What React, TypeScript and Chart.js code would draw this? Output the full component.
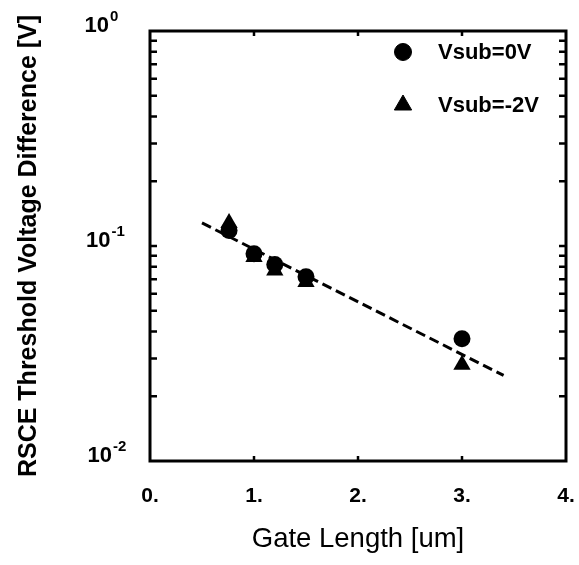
import React, { useEffect, useRef } from 'react';
import { Chart, registerables } from 'chart.js';
import { drawPoint } from 'chart.js/helpers';

Chart.register(...registerables);

// ---- data ----
const gateLength = [0.76, 1.0, 1.2, 1.5, 3.0];
const vsub0 = [0.118, 0.092, 0.082, 0.072, 0.037];
const vsubMinus2 = [0.128, 0.089, 0.077, 0.068, 0.028];
const fitX = [0.5, 3.4];
const fitY = [0.128, 0.025];

const seriesLabels = ['Vsub=0V', 'Vsub=-2V'];
const xTickValues = [0, 1, 2, 3, 4];
const xTickLabels = ['0.', '1.', '2.', '3.', '4.'];
const yDecades = [1, 0.1, 0.01];
const yExponents = ['0', '-1', '-2'];
const yMinorTicks = [
  0.02, 0.03, 0.04, 0.05, 0.06, 0.07, 0.08, 0.09,
  0.2, 0.3, 0.4, 0.5, 0.6, 0.7, 0.8, 0.9,
];
const xInnerTicks = [1, 2, 3];

const FONT = "'Liberation Sans', Arial, Helvetica, sans-serif";

const framePlugin = {
  id: 'frameTicks',
  afterDatasetsDraw(chart: any) {
    const { ctx, chartArea } = chart;
    const xs = chart.scales.x;
    const ys = chart.scales.y;
    const { left, right, top, bottom } = chartArea;
    ctx.save();
    ctx.strokeStyle = '#000';
    ctx.lineCap = 'butt';
    ctx.lineWidth = 2.5;
    const yTickVals = [...yDecades, ...yMinorTicks];
    yTickVals.forEach((v) => {
      const y = ys.getPixelForValue(v);
      if (y <= top + 1 || y >= bottom - 1) return;
      ctx.beginPath();
      ctx.moveTo(left, y);
      ctx.lineTo(left + 7, y);
      ctx.moveTo(right, y);
      ctx.lineTo(right - 7, y);
      ctx.stroke();
    });
    xInnerTicks.forEach((v) => {
      const x = xs.getPixelForValue(v);
      ctx.beginPath();
      ctx.moveTo(x, bottom);
      ctx.lineTo(x, bottom - 5);
      ctx.moveTo(x, top);
      ctx.lineTo(x, top + 5);
      ctx.stroke();
    });
    ctx.lineWidth = 3;
    ctx.strokeRect(left, top, right - left, bottom - top);
    ctx.restore();
  },
};

const yLabelPlugin = {
  id: 'yPowerLabels',
  afterDraw(chart: any) {
    const { ctx } = chart;
    const ys = chart.scales.y;
    ctx.save();
    ctx.fillStyle = '#000';
    ctx.textBaseline = 'alphabetic';
    yDecades.forEach((v, i) => {
      const y = ys.getPixelForValue(v);
      const baseRight = 109 + i * 1.5;
      ctx.textAlign = 'right';
      ctx.font = `bold 22px ${FONT}`;
      ctx.fillText('10', baseRight, y + 1);
      ctx.textAlign = 'left';
      ctx.font = `bold 15px ${FONT}`;
      ctx.fillText(yExponents[i], baseRight + 1, y - 10);
    });
    ctx.restore();
  },
};

const legendPlugin = {
  id: 'innerLegend',
  afterDraw(chart: any) {
    const { ctx } = chart;
    const rows = [52, 105];
    ctx.save();
    chart.data.datasets.forEach((ds: any, i: number) => {
      if (i >= seriesLabels.length) return;
      const y = rows[i];
      ctx.fillStyle = '#000';
      ctx.strokeStyle = '#000';
      ctx.lineWidth = 1;
      drawPoint(ctx, { pointStyle: ds.pointStyle, radius: ds.pointRadius, borderWidth: 1, rotation: 0 }, 403, y);
      ctx.font = `bold 22px ${FONT}`;
      ctx.textAlign = 'left';
      ctx.textBaseline = 'middle';
      ctx.fillText(ds.label, 438, y + 1);
    });
    ctx.restore();
  },
};

export default function App() {
  const ref = useRef<HTMLCanvasElement>(null);
  useEffect(() => {
    const toPts = (xs: number[], ys: number[]) => xs.map((x, i) => ({ x, y: ys[i] }));
    const chart = new Chart(ref.current as HTMLCanvasElement, {
      type: 'scatter',
      data: {
        datasets: [
          {
            label: seriesLabels[0],
            data: toPts(gateLength, vsub0),
            pointStyle: 'circle',
            pointRadius: 8.5,
            backgroundColor: '#000',
            borderColor: '#000',
            borderWidth: 0,
          },
          {
            label: seriesLabels[1],
            data: toPts(gateLength, vsubMinus2),
            pointStyle: 'triangle',
            pointRadius: 10,
            backgroundColor: '#000',
            borderColor: '#000',
            borderWidth: 0,
          },
          {
            label: 'fit',
            type: 'line',
            data: toPts(fitX, fitY),
            showLine: true,
            borderColor: '#000',
            borderWidth: 3,
            borderDash: [10, 5],
            pointRadius: 0,
            fill: false,
          } as any,
        ],
      },
      options: {
        animation: false,
        responsive: false,
        devicePixelRatio: 1,
        layout: { padding: { left: 0, top: 31, right: 13, bottom: 0 } },
        plugins: { legend: { display: false }, tooltip: { enabled: false } },
        scales: {
          x: {
            type: 'linear',
            min: 0,
            max: 4,
            afterBuildTicks: (s: any) => {
              s.ticks = xTickValues.map((v) => ({ value: v }));
            },
            afterFit: (s: any) => {
              s.height = 104;
              s.paddingLeft = 0;
              s.paddingRight = 0;
            },
            ticks: {
              autoSkip: false,
              maxRotation: 0,
              padding: 23,
              color: '#000',
              font: { family: FONT, size: 21, weight: 'bold' },
              callback: (v: any) => {
                const i = xTickValues.indexOf(Number(v));
                return i >= 0 ? xTickLabels[i] : '';
              },
            },
            grid: { display: false, drawTicks: false },
            border: { display: false },
            title: {
              display: true,
              text: 'Gate Length [um]',
              color: '#000',
              font: { family: FONT, size: 27.5, weight: 'normal' },
              padding: { top: 0, bottom: 9 },
            },
          },
          y: {
            type: 'logarithmic',
            min: 0.01,
            max: 1,
            afterFit: (s: any) => {
              s.width = 150;
              s.paddingTop = 0;
              s.paddingBottom = 0;
            },
            ticks: { display: false },
            grid: { display: false, drawTicks: false },
            border: { display: false },
            title: {
              display: true,
              text: 'RSCE Threshold Voltage Difference [V]',
              color: '#000',
              font: { family: FONT, size: 25, weight: 'bold' },
              padding: { top: 14, bottom: 0 },
            },
          },
        },
      },
      plugins: [framePlugin, yLabelPlugin, legendPlugin],
    } as any);
    return () => chart.destroy();
  }, []);
  return (
    <div style={{ position: 'fixed', left: 0, top: 0, width: 579, height: 565, background: '#fff' }}>
      <canvas ref={ref} width={579} height={565} style={{ display: 'block', width: 579, height: 565 }} />
    </div>
  );
}
